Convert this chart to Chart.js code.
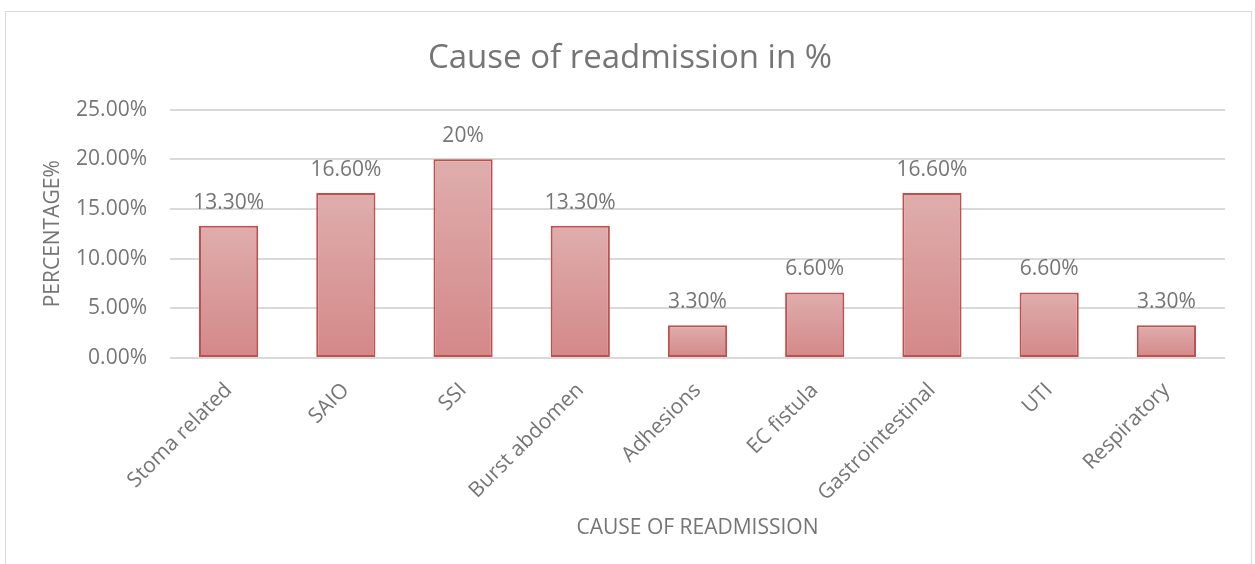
<!DOCTYPE html>
<html>
<head>
<meta charset="utf-8">
<script src="https://cdn.jsdelivr.net/npm/chart.js@4/dist/chart.umd.min.js"></script>
<style>
  html, body { margin: 0; padding: 0; background: #fff; }
  body { width: 1255px; height: 564px; position: relative; overflow: hidden; }
  #frame { position: absolute; left: 5px; top: 11px; width: 1245px; height: 600px; border: 1px solid #d9d9d9; }
  #chart { position: absolute; left: 0; top: 0; }
</style>
</head>
<body>
<div id="frame"></div>
<canvas id="chart" width="1255" height="564"></canvas>
<script>
// chart data
const causes = ['Stoma related', 'SAIO', 'SSI', 'Burst abdomen', 'Adhesions', 'EC fistula', 'Gastrointestinal', 'UTI', 'Respiratory'];
const percentages = [13.3, 16.6, 20, 13.3, 3.3, 6.6, 16.6, 6.6, 3.3];
const valueLabels = ['13.30%', '16.60%', '20%', '13.30%', '3.30%', '6.60%', '16.60%', '6.60%', '3.30%'];
const yTicks = [0, 5, 10, 15, 20, 25];

const textGrey = '#757575';
const fontFamily = '"Open Sans", sans-serif';

// draws the value above each bar
const barValueLabels = {
  id: 'barValueLabels',
  afterDatasetsDraw(chart) {
    const ctx = chart.ctx;
    const meta = chart.getDatasetMeta(0);
    ctx.save();
    ctx.font = '21px ' + fontFamily;
    ctx.fillStyle = textGrey;
    ctx.textAlign = 'center';
    ctx.textBaseline = 'middle';
    meta.data.forEach((bar, i) => {
      ctx.fillText(valueLabels[i], bar.x, bar.y - 23);
    });
    ctx.restore();
  }
};

// light-to-dark gradient inside each bar
function barGradient(context) {
  const chart = context.chart;
  if (!chart.chartArea || context.type !== 'data') return '#d9999a';
  const y = chart.scales.y;
  const top = y.getPixelForValue(context.raw);
  const bottom = y.getPixelForValue(0);
  const g = chart.ctx.createLinearGradient(0, top, 0, bottom);
  g.addColorStop(0, '#dfadad');
  g.addColorStop(1, '#d48888');
  return g;
}

new Chart(document.getElementById('chart'), {
  type: 'bar',
  data: {
    labels: causes,
    datasets: [{
      data: percentages,
      backgroundColor: barGradient,
      borderColor: '#c0504d',
      borderWidth: 2,
      borderSkipped: false,
      categoryPercentage: 1,
      barPercentage: 0.505
    }]
  },
  options: {
    responsive: false,
    animation: false,
    devicePixelRatio: 1,
    layout: { padding: { left: 5, right: 0, top: 0, bottom: 0 } },
    plugins: {
      legend: { display: false },
      tooltip: { enabled: false },
      title: {
        display: true,
        text: 'Cause of readmission in %',
        color: textGrey,
        font: { family: fontFamily, size: 33, weight: 'normal' },
        padding: { top: 39, bottom: 31 }
      }
    },
    scales: {
      x: {
        grid: { display: false },
        border: { display: false },
        ticks: {
          color: textGrey,
          font: { family: fontFamily, size: 21 },
          minRotation: 45,
          maxRotation: 45,
          autoSkip: false,
          padding: 12
        },
        title: {
          display: true,
          text: 'CAUSE OF READMISSION',
          color: textGrey,
          font: { family: fontFamily, size: 21 },
          padding: { top: 0, bottom: 23 }
        },
        afterFit(scale) {
          scale.height = 206;
          scale.paddingRight = 30;
        }
      },
      y: {
        min: 0,
        max: 25,
        afterBuildTicks(scale) { scale.ticks = yTicks.map(v => ({ value: v })); },
        grid: { color: '#d9d9d9', lineWidth: 2, drawTicks: false },
        border: { display: false },
        ticks: {
          color: textGrey,
          font: { family: fontFamily, size: 21 },
          padding: 23,
          callback: v => v.toFixed(2) + '%'
        },
        title: {
          display: true,
          text: 'PERCENTAGE%',
          color: textGrey,
          font: { family: fontFamily, size: 21 },
          padding: { top: 35, bottom: 0 }
        },
        afterFit(scale) { scale.width = 165; }
      }
    }
  },
  plugins: [barValueLabels]
});
</script>
</body>
</html>
